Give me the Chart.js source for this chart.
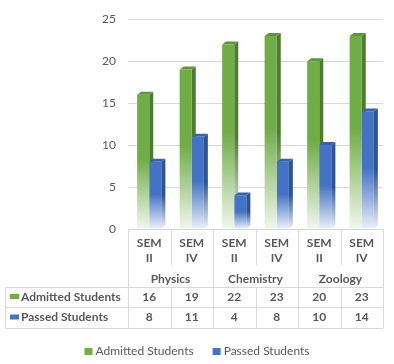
<!DOCTYPE html>
<html>
<head>
<meta charset="utf-8">
<script src="https://cdn.jsdelivr.net/npm/chart.js@4.4.1/dist/chart.umd.min.js"></script>
<style>
  html, body { margin: 0; padding: 0; background: #fff; }
  #wrap { width: 394px; height: 364px; }
</style>
</head>
<body>
<div id="wrap"><canvas id="chart"></canvas></div>
<script>
// data
const semesters = [['SEM', 'II'], ['SEM', 'IV'], ['SEM', 'II'], ['SEM', 'IV'], ['SEM', 'II'], ['SEM', 'IV']];
const subjects = ['Physics', 'Chemistry', 'Zoology'];
const admitted = [16, 19, 22, 23, 20, 23];
const passed = [8, 11, 4, 8, 10, 14];
const seriesNames = ['Admitted Students', 'Passed Students'];
const yMax = 25;
const yStep = 5;

const GREEN = { face: '#70ad47', side: '#4e7b31', top: '#5e9639', light: '#f1f7ed' };
const BLUE = { face: '#4472c4', side: '#2f5496', top: '#3a63ac', light: '#eaf0f9' };
const TXT = '#595959';
const LINE = '#d9d9d9';
const DX = 4, DY = 3;

// vertical fade: solid on the upper half, almost white at the base
function fade(chart, value, c) {
    const ys = chart.scales.y;
    const top = ys.getPixelForValue(value);
    const bot = ys.getPixelForValue(0);
    const g = chart.ctx.createLinearGradient(0, top, 0, bot);
    g.addColorStop(0, c.face);
    g.addColorStop(0.48, c.face);
    g.addColorStop(1, c.light);
    return g;
}

function drawDepth(chart, di, c) {
    const ctx = chart.ctx;
    ctx.save();
    chart.getDatasetMeta(di).data.forEach(bar => {
        const l = bar.x - bar.width / 2, r = bar.x + bar.width / 2;
        const t = bar.y, b = bar.base;
        const g = ctx.createLinearGradient(0, t, 0, b);
        g.addColorStop(0, c.side);
        g.addColorStop(0.5, c.side);
        g.addColorStop(1, c.light);
        ctx.fillStyle = g;
        ctx.beginPath();
        ctx.moveTo(r, t); ctx.lineTo(r + DX, t - DY); ctx.lineTo(r + DX, b - DY); ctx.lineTo(r, b);
        ctx.closePath(); ctx.fill();
        ctx.fillStyle = c.top;
        ctx.beginPath();
        ctx.moveTo(l, t); ctx.lineTo(l + DX, t - DY); ctx.lineTo(r + DX, t - DY); ctx.lineTo(r, t);
        ctx.closePath(); ctx.fill();
    });
    ctx.restore();
}

const depth = {
    id: 'depth',
    beforeDatasetsDraw(chart) { drawDepth(chart, 0, GREEN); },
    afterDatasetsDraw(chart) { drawDepth(chart, 1, BLUE); }
};

function keyBox(ctx, x, y, w, h, c) {
    const g = ctx.createLinearGradient(0, y, 0, y + h);
    g.addColorStop(0, c.face);
    g.addColorStop(1, c.light);
    ctx.fillStyle = c.face;
    ctx.fillRect(x, y, w, h);
}

// data table under the plot + legend at the bottom
const dataTable = {
    id: 'dataTable',
    afterDraw(chart) {
        const ctx = chart.ctx, xs = chart.scales.x, a = chart.chartArea;
        const n = semesters.length, w = a.width / n;
        const edge = i => a.left + i * w;
        const y0 = a.bottom, yCat = y0 + 36, yR1 = y0 + 58, yR2 = y0 + 78, yEnd = y0 + 99, tl = 5;
        ctx.save();
        ctx.strokeStyle = LINE;
        ctx.lineWidth = 1;
        ctx.beginPath();
        for (let i = 0; i <= n; i++) {
            const x = Math.round(edge(i)) + 0.5;
            if (i % 2 === 0) {
                ctx.moveTo(x, y0); ctx.lineTo(x, yEnd);
            } else {
                ctx.moveTo(x, y0); ctx.lineTo(x, yCat);
                ctx.moveTo(x, yR1); ctx.lineTo(x, yEnd);
            }
        }
        [yR1, yR2, yEnd].forEach(y => {
            ctx.moveTo(tl, Math.round(y) + 0.5); ctx.lineTo(edge(n), Math.round(y) + 0.5);
        });
        ctx.moveTo(tl + 0.5, yR1); ctx.lineTo(tl + 0.5, yEnd);
        ctx.stroke();

        ctx.fillStyle = TXT;
        ctx.font = 'bold 12px Lato';
        ctx.textAlign = 'center';
        ctx.textBaseline = 'middle';
        semesters.forEach((lab, i) => {
            const x = xs.getPixelForValue(i);
            ctx.fillText(lab[0], x, y0 + 14);
            ctx.fillText(lab[1], x, y0 + 29);
        });
        subjects.forEach((s, j) => ctx.fillText(s, edge(2 * j + 1), y0 + 50));
        const rows = [admitted, passed];
        const colors = [GREEN, BLUE];
        const rowY = [(yR1 + yR2) / 2, (yR2 + yEnd) / 2];
        rows.forEach((vals, r) => {
            ctx.fillStyle = TXT;
            ctx.textAlign = 'center';
            vals.forEach((v, i) => ctx.fillText(String(v), xs.getPixelForValue(i), rowY[r]));
            ctx.textAlign = 'left';
            ctx.fillText(seriesNames[r], 21, rowY[r]);
            keyBox(ctx, 10, rowY[r] - 3, 9, 5, colors[r]);
        });

        // legend
        ctx.font = '12px Lato';
        ctx.textAlign = 'left';
        const ly = 351, box = 8, gap = 3, space = 19;
        const tw = seriesNames.map(s => ctx.measureText(s).width);
        const total = tw[0] + tw[1] + 2 * (box + gap) + space;
        let x = (chart.width - total) / 2;
        seriesNames.forEach((s, r) => {
            keyBox(ctx, x, ly - 3, box, 7, colors[r]);
            ctx.fillStyle = TXT;
            ctx.fillText(s, x + box + gap, ly);
            x += box + gap + tw[r] + space;
        });
        ctx.restore();
    }
};

new Chart(document.getElementById('chart'), {
    type: 'bar',
    data: {
        labels: semesters.map(s => s.join(' ')),
        datasets: [{
            label: seriesNames[0],
            data: admitted,
            backgroundColor: c => c.chart.chartArea ? fade(c.chart, c.raw, GREEN) : GREEN.face
        }, {
            label: seriesNames[1],
            data: passed,
            backgroundColor: c => c.chart.chartArea ? fade(c.chart, c.raw, BLUE) : BLUE.face
        }]
    },
    options: {
        responsive: true,
        maintainAspectRatio: false,
        animation: false,
        layout: { padding: { top: 15, right: 11, left: 0, bottom: 0 } },
        datasets: { bar: { barPercentage: 1, categoryPercentage: 0.57, borderWidth: 0 } },
        scales: {
            x: {
                ticks: { display: false },
                grid: { display: false },
                border: { display: false },
                afterFit: s => { s.height = 135; }
            },
            y: {
                min: 0,
                max: yMax,
                ticks: { stepSize: yStep, color: TXT, padding: 12, font: { family: 'Lato', size: 12 } },
                grid: { color: LINE, drawTicks: false },
                border: { display: false },
                afterFit: s => { s.width = 128; }
            }
        },
        plugins: {
            legend: { display: false },
            tooltip: { enabled: false }
        }
    },
    plugins: [depth, dataTable]
});
</script>
</body>
</html>
